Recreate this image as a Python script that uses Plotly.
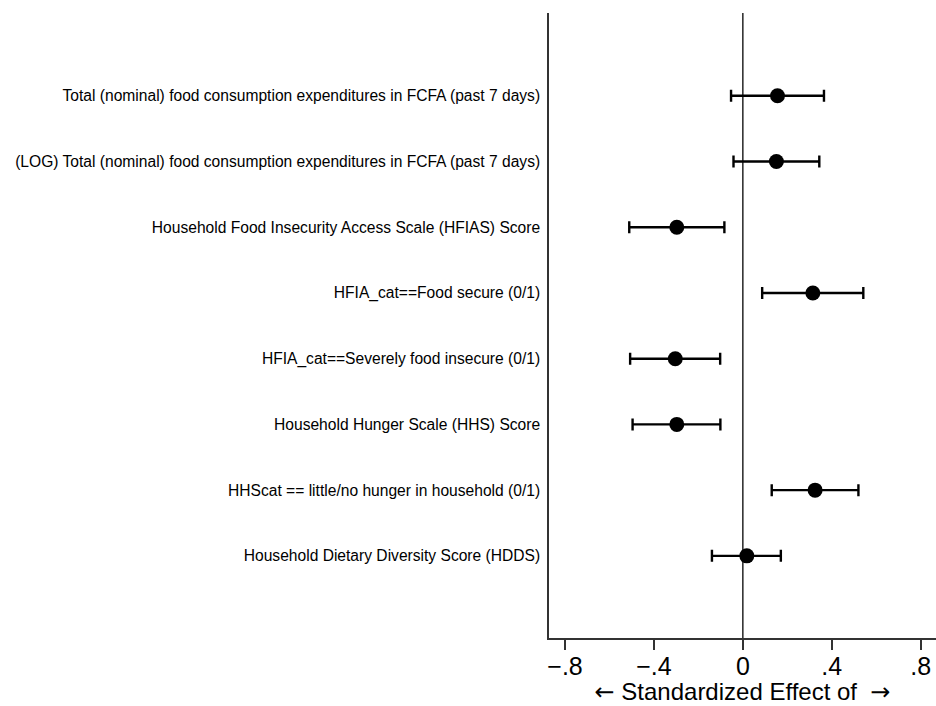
import plotly.graph_objects as go

outcomes = [
    "Total (nominal) food consumption expenditures in FCFA (past 7 days)",
    "(LOG) Total (nominal) food consumption expenditures in FCFA (past 7 days)",
    "Household Food Insecurity Access Scale (HFIAS) Score",
    "HFIA_cat==Food secure (0/1)",
    "HFIA_cat==Severely food insecure (0/1)",
    "Household Hunger Scale (HHS) Score",
    "HHScat == little/no hunger in household (0/1)",
    "Household Dietary Diversity Score (HDDS)",
]
estimate = [0.156, 0.151, -0.297, 0.315, -0.304, -0.297, 0.325, 0.018]
ci_low = [-0.053, -0.042, -0.511, 0.087, -0.507, -0.496, 0.130, -0.139]
ci_high = [0.365, 0.344, -0.083, 0.542, -0.102, -0.101, 0.520, 0.171]
row_pos = [1, 2, 3, 4, 5, 6, 7, 8]
x_tickvals = [-0.8, -0.4, 0, 0.4, 0.8]
x_ticktext = ["\u2212.8", "\u2212.4", "0", ".4", ".8"]

fig = go.Figure()
fig.add_trace(go.Scatter(
    x=estimate, y=row_pos, mode="markers",
    marker=dict(color="black", size=15),
    error_x=dict(type="data", symmetric=False,
                 array=[h - e for h, e in zip(ci_high, estimate)],
                 arrayminus=[e - l for e, l in zip(estimate, ci_low)],
                 color="black", thickness=2.4, width=6),
    showlegend=False, hoverinfo="skip",
))
fig.add_shape(type="line", xref="x", yref="paper", x0=0, x1=0, y0=0, y1=1,
              line=dict(color="#333333", width=1.6), layer="below")

arrow_l = "<span style='font-family:DejaVu Sans'>\u2190</span>"
arrow_r = "<span style='font-family:DejaVu Sans'>\u2192</span>"

fig.update_layout(
    width=936, height=706,
    margin=dict(l=549, r=0, t=13, b=68),
    plot_bgcolor="white", paper_bgcolor="white",
    font=dict(family="Liberation Sans, Arial, sans-serif", color="black"),
    xaxis=dict(range=[-0.872, 0.869], tickvals=x_tickvals, ticktext=x_ticktext,
               ticks="outside", ticklen=10, tickwidth=1.5, tickcolor="#333333",
               showline=True, linecolor="#333333", linewidth=1.5,
               showgrid=False, zeroline=False,
               tickfont=dict(size=25), ticklabelstandoff=-5,
               title=dict(text=arrow_l + " Standardized Effect of  " + arrow_r,
                          font=dict(size=24), standoff=2)),
    yaxis=dict(range=[9.25, -0.26], tickvals=row_pos, ticktext=outcomes,
               ticks="", showline=True, linecolor="#333333", linewidth=1.5,
               showgrid=False, zeroline=False, tickfont=dict(size=15.6),
               ticklabelstandoff=4),
)
fig.write_html("out.html")
